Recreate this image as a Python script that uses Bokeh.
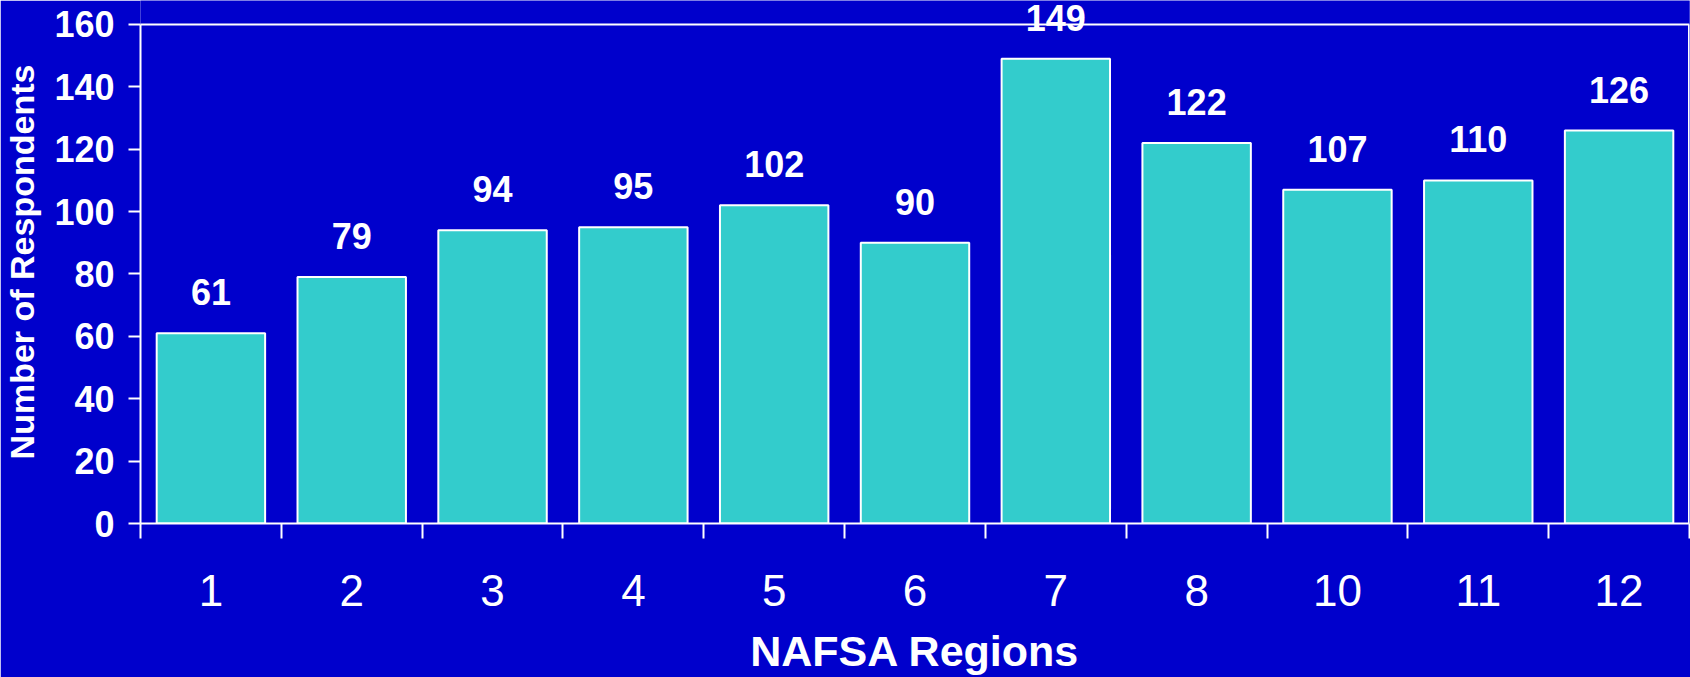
from bokeh.plotting import figure
from bokeh.models import Range1d, FixedTicker, LabelSet, ColumnDataSource, Span
from bokeh.core.properties import value
from bokeh.embed import file_html
from bokeh.resources import INLINE

# ---- data ----
regions = ["1", "2", "3", "4", "5", "6", "7", "8", "10", "11", "12"]
respondents = [61, 79, 94, 95, 102, 90, 149, 122, 107, 110, 126]
y_ticks = [0, 20, 40, 60, 80, 100, 120, 140, 160]

BG = "#0000CC"
BAR = "#33CCCC"
FONT = "Liberation Sans"

n = len(regions)
centers = [i + 0.5 for i in range(n)]
bounds = list(range(n + 1))

W, H = 1690, 677
BL, BB, BR, BT = 140, 153, 1, 0
frame_h = H - BB - BT
ymax = y_ticks[-1]
y_end = ymax * frame_h / 500.0

p = figure(width=W, height=H, output_backend="svg", toolbar_location=None,
           x_range=Range1d(0, n), y_range=Range1d(0, y_end),
           min_border_left=BL, min_border_right=BR, min_border_top=BT,
           min_border_bottom=BB)
p.background_fill_color = BG
p.border_fill_color = BG
p.outline_line_color = None
p.grid.visible = False

src = ColumnDataSource(dict(x=centers, top=respondents,
                            label=[str(v) for v in respondents]))
p.vbar(x="x", top="top", width=0.77, source=src, fill_color=BAR,
       line_color="white", line_width=2)

labels = LabelSet(x="x", y="top", text="label", source=src, y_offset=28,
                  text_align="center", text_baseline="alphabetic",
                  text_color="white", text_font=value(FONT),
                  text_font_style="bold", text_font_size="36px")
p.add_layout(labels)

# frame border lines (top at 160, right edge)
p.add_layout(Span(location=ymax, dimension="width", line_color="white", line_width=2))
p.segment(x0=[n], y0=[0], x1=[n], y1=[ymax], line_color="white", line_width=3)

# x axis
xa = p.xaxis[0]
xa.ticker = FixedTicker(ticks=centers, minor_ticks=bounds)
xa.major_label_overrides = {c: r for c, r in zip(centers, regions)}
xa.major_tick_out = 0
xa.major_tick_in = 0
xa.minor_tick_out = 15
xa.minor_tick_in = 0
xa.minor_tick_line_color = "white"
xa.minor_tick_line_width = 2
xa.axis_line_color = "white"
xa.axis_line_width = 2
xa.major_label_text_color = "white"
xa.major_label_text_font = FONT
xa.major_label_text_font_size = "44px"
xa.major_label_standoff = 36
xa.axis_label = "NAFSA Regions"
xa.axis_label_text_color = "white"
xa.axis_label_text_font = FONT
xa.axis_label_text_font_style = "bold"
xa.axis_label_text_font_size = "43px"
xa.axis_label_standoff = 18

# y axis
ya = p.yaxis[0]
ya.ticker = FixedTicker(ticks=y_ticks, minor_ticks=[])
ya.bounds = (0, ymax)
ya.major_tick_out = 12
ya.major_tick_in = 0
ya.major_tick_line_color = "white"
ya.major_tick_line_width = 2
ya.axis_line_color = "white"
ya.axis_line_width = 2
ya.major_label_text_color = "white"
ya.major_label_text_font = FONT
ya.major_label_text_font_style = "bold"
ya.major_label_text_font_size = "36px"
ya.major_label_standoff = 14
ya.axis_label = "Number of Respondents"
ya.axis_label_text_color = "white"
ya.axis_label_text_font = FONT
ya.axis_label_text_font_style = "bold"
ya.axis_label_text_font_size = "34px"
ya.axis_label_standoff = 10

open("out.html", "w").write(file_html(p, INLINE))
